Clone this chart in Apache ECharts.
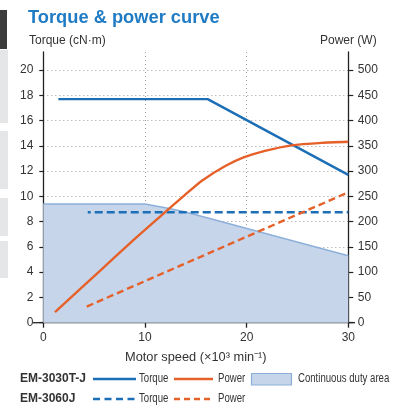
<!DOCTYPE html>
<html>
<head>
<meta charset="utf-8">
<script src="https://cdn.jsdelivr.net/npm/echarts@6/dist/echarts.min.js"></script>
<style>
  html, body { margin: 0; padding: 0; background: #ffffff; }
  #chart { width: 411px; height: 408px; }
</style>
</head>
<body>
<div id="chart"></div>
<script>
// Axis ticks
const speedTicks  = [0, 10, 20, 30];
const torqueTicks = [0, 2, 4, 6, 8, 10, 12, 14, 16, 18, 20];
const powerTicks  = [0, 50, 100, 150, 200, 250, 300, 350, 400, 450, 500];

// EM-3030T-J  [speed (x10^3 min^-1), value]
const torqueA = [[1.48, 17.7], [16.17, 17.7], [30, 11.7]];
const powerA  = [[1.15, 21], [5.6, 103], [9.05, 167], [11.65, 213], [13.94, 253],
                 [15.6, 281], [17.9, 310], [19.7, 327], [21.8, 340],
                 [24.4, 351], [27.4, 356], [30, 358]];

// EM-3060J
const torqueB = [[4.37, 8.74], [30, 8.74]];
const powerB  = [[4.27, 32], [30, 258]];

// Continuous duty area (torque)
const dutyArea = [[0, 9.4], [10, 9.4], [12, 9.1], [13.8, 8.8], [30, 5.3]];

const BLUE = '#1c6fb6';
const ORANGE = '#e6612a';
const FILL = '#c6d5ea';
const EDGE = '#8db0da';
const TEXT = '#333333';
const FONT = 'Liberation Sans';

const chart = echarts.init(document.getElementById('chart'), null, { renderer: 'canvas' });

const gridLine = { show: true, lineStyle: { color: '#a0a0a0', type: [1, 3], width: 1 } };
const axisLine = { show: true, lineStyle: { color: '#222', width: 1.3 } };

// condensed legend label
function narrowText(x, y, text) {
  return {
    type: 'text', x: x, y: y, scaleX: 0.8, scaleY: 1,
    style: { text: text, fill: TEXT, font: '12px "Liberation Sans"', textVerticalAlign: 'middle' }
  };
}

chart.setOption({
  animation: false,
  backgroundColor: '#ffffff',
  textStyle: { fontFamily: FONT },
  grid: { left: 43.3, right: 62.7, top: 52, bottom: 85.3, containLabel: false },
  xAxis: {
    type: 'value', min: 0, max: 30, interval: 10,
    axisLine: axisLine,
    axisTick: { show: true, length: 5, lineStyle: { color: '#222', width: 1.3 } },
    axisLabel: { color: TEXT, fontSize: 12, margin: 9, fontFamily: FONT },
    splitLine: gridLine,
    name: 'Motor speed (×10³ min⁻¹)',
    nameLocation: 'middle', nameGap: 28,
    nameTextStyle: { color: TEXT, fontSize: 12.8, fontFamily: FONT }
  },
  yAxis: [
    {
      type: 'value', min: 0, max: 21.43, position: 'left',
      axisLine: axisLine,
      axisTick: { show: true, length: 4, customValues: torqueTicks, lineStyle: { color: '#222', width: 1.2 } },
      axisLabel: { color: TEXT, fontSize: 12, margin: 10, fontFamily: FONT, customValues: torqueTicks },
      splitLine: gridLine
    },
    {
      type: 'value', min: 0, max: 535.75, position: 'right',
      axisLine: axisLine,
      axisTick: { show: true, length: 5, customValues: powerTicks, lineStyle: { color: '#222', width: 1.2 } },
      axisLabel: { color: TEXT, fontSize: 12, margin: 9.5, fontFamily: FONT, customValues: powerTicks },
      splitLine: { show: false }
    }
  ],
  series: [
    {
      name: 'Continuous duty area', type: 'line', yAxisIndex: 0, data: dutyArea,
      symbol: 'none', smooth: false, z: 1,
      lineStyle: { color: EDGE, width: 1.5 },
      areaStyle: { color: FILL, opacity: 1 }
    },
    {
      name: 'EM-3060J Torque', type: 'line', yAxisIndex: 0, data: torqueB,
      symbol: 'none', z: 3,
      lineStyle: { color: BLUE, width: 2.6, type: [8, 4], dashOffset: 5 }
    },
    {
      name: 'EM-3060J Power', type: 'line', yAxisIndex: 1, data: powerB,
      symbol: 'none', z: 3,
      lineStyle: { color: ORANGE, width: 2.4, type: [7, 4] }
    },
    {
      name: 'EM-3030T-J Torque', type: 'line', yAxisIndex: 0, data: torqueA,
      symbol: 'none', z: 4,
      lineStyle: { color: BLUE, width: 2.4 }
    },
    {
      name: 'EM-3030T-J Power', type: 'line', yAxisIndex: 1, data: powerA,
      symbol: 'none', smooth: 0.2, z: 4,
      lineStyle: { color: ORANGE, width: 2.4 }
    }
  ],
  graphic: [
    // page-edge tabs
    { type: 'rect', shape: { x: 0, y: 10, width: 7, height: 39 }, style: { fill: '#3c3c3c' }, silent: true },
    { type: 'rect', shape: { x: 0, y: 50, width: 8, height: 73 }, style: { fill: '#e5e6e7' }, silent: true },
    { type: 'rect', shape: { x: 0, y: 131, width: 8, height: 58 }, style: { fill: '#e5e6e7' }, silent: true },
    { type: 'rect', shape: { x: 0, y: 198, width: 8, height: 38 }, style: { fill: '#e5e6e7' }, silent: true },
    { type: 'rect', shape: { x: 0, y: 241, width: 8, height: 37 }, style: { fill: '#e5e6e7' }, silent: true },

    // title and axis names
    { type: 'text', left: 28, top: 9, style: { text: 'Torque & power curve', fill: '#1f7bc4', font: 'bold 18.3px "Liberation Sans"' } },
    { type: 'text', left: 29, top: 35, style: { text: 'Torque (cN·m)', fill: TEXT, font: '12px "Liberation Sans"' } },
    { type: 'text', left: 320, top: 35, style: { text: 'Power (W)', fill: TEXT, font: '12px "Liberation Sans"' } },

    // baseline overhang past both vertical axes
    { type: 'line', shape: { x1: 33, y1: 322.7, x2: 43.3, y2: 322.7 }, style: { stroke: '#222', lineWidth: 1.3 } },
    { type: 'line', shape: { x1: 348.3, y1: 322.7, x2: 355, y2: 322.7 }, style: { stroke: '#222', lineWidth: 1.3 } },

    // legend row 1: EM-3030T-J
    { type: 'text', x: 20, y: 379, style: { text: 'EM-3030T-J', fill: TEXT, font: 'bold 12px "Liberation Sans"', textVerticalAlign: 'middle' } },
    { type: 'line', shape: { x1: 93, y1: 379, x2: 136, y2: 379 }, style: { stroke: BLUE, lineWidth: 2.6 } },
    narrowText(139, 379, 'Torque'),
    { type: 'line', shape: { x1: 174, y1: 379, x2: 213, y2: 379 }, style: { stroke: ORANGE, lineWidth: 2.6 } },
    narrowText(218, 379, 'Power'),
    { type: 'rect', shape: { x: 251.5, y: 373.5, width: 40, height: 11.5 }, style: { fill: FILL, stroke: EDGE, lineWidth: 1.2 } },
    narrowText(298, 379, 'Continuous duty area'),

    // legend row 2: EM-3060J
    { type: 'text', x: 20, y: 399, style: { text: 'EM-3060J', fill: TEXT, font: 'bold 12px "Liberation Sans"', textVerticalAlign: 'middle' } },
    { type: 'line', shape: { x1: 93, y1: 399, x2: 135, y2: 399 }, style: { stroke: BLUE, lineWidth: 2.4, lineDash: [7, 4.5] } },
    narrowText(139, 399, 'Torque'),
    { type: 'line', shape: { x1: 174, y1: 399, x2: 213, y2: 399 }, style: { stroke: ORANGE, lineWidth: 2.4, lineDash: [6, 4] } },
    narrowText(218, 399, 'Power')
  ]
});
</script>
</body>
</html>
